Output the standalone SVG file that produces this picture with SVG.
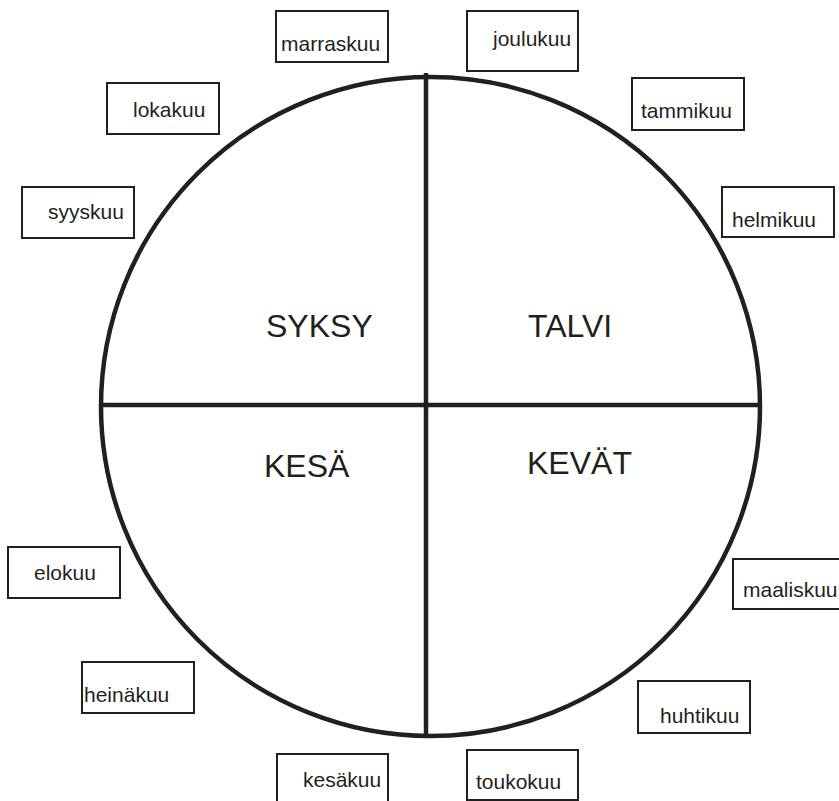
<svg xmlns="http://www.w3.org/2000/svg" width="839" height="801" viewBox="0 0 839 801">
<style>
.ln{stroke:#231f20;stroke-width:4.5;fill:none}
.box{fill:#fff;stroke:#231f20;stroke-width:2}
.m{font-family:"Liberation Sans",Arial,sans-serif;font-size:21px;fill:#231f20}
.s{font-family:"Liberation Sans",Arial,sans-serif;font-size:32px;fill:#231f20}
</style>
<rect width="839" height="801" fill="#fff"/>
<g id="connectors">
<circle class="ln" cx="430.5" cy="406.5" r="329.5"/>
<line class="ln" x1="426" y1="73" x2="426" y2="738"/>
<line class="ln" x1="102" y1="405" x2="759" y2="405"/>
</g>
<g id="syksy"><text class="s" x="266" y="337">SYKSY</text></g>
<g id="talvi"><text class="s" x="528" y="337">TALVI</text></g>
<g id="kesa"><text class="s" x="264" y="477">KESÄ</text></g>
<g id="kevat"><text class="s" x="527" y="474">KEVÄT</text></g>
<g id="marraskuu"><rect class="box" x="276" y="11" width="112" height="51"/><text class="m" x="281" y="51">marraskuu</text></g>
<g id="joulukuu"><rect class="box" x="467" y="11" width="111" height="60"/><text class="m" x="493" y="46">joulukuu</text></g>
<g id="tammikuu"><rect class="box" x="632" y="78" width="112" height="52"/><text class="m" x="641" y="118">tammikuu</text></g>
<g id="helmikuu"><rect class="box" x="722" y="187" width="112" height="50"/><text class="m" x="732" y="227">helmikuu</text></g>
<g id="lokakuu"><rect class="box" x="107" y="83" width="112" height="51"/><text class="m" x="133" y="117">lokakuu</text></g>
<g id="syyskuu"><rect class="box" x="22" y="187" width="112" height="51"/><text class="m" x="48" y="219">syyskuu</text></g>
<g id="elokuu"><rect class="box" x="8" y="547" width="112" height="51"/><text class="m" x="34" y="580">elokuu</text></g>
<g id="heinakuu"><rect class="box" x="82" y="662" width="112" height="51"/><text class="m" x="84" y="702">heinäkuu</text></g>
<g id="maaliskuu"><rect class="box" x="733" y="559" width="112" height="50"/><text class="m" x="743" y="597">maaliskuu</text></g>
<g id="huhtikuu"><rect class="box" x="638" y="681" width="112" height="52"/><text class="m" x="660" y="723">huhtikuu</text></g>
<g id="kesakuu"><rect class="box" x="277" y="754" width="111" height="60"/><text class="m" x="303" y="787">kesäkuu</text></g>
<g id="toukokuu"><rect class="box" x="467" y="750" width="111" height="50"/><text class="m" x="476" y="789">toukokuu</text></g>
</svg>
